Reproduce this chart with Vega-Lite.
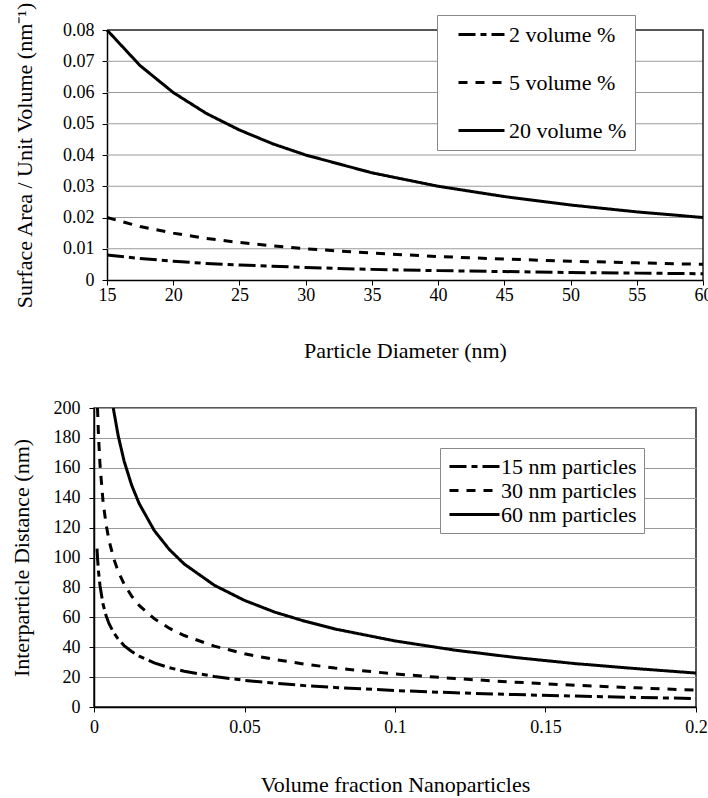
{
  "$schema": "https://vega.github.io/schema/vega-lite/v6.json",
  "padding": {"left": 9, "top": 1, "right": 0, "bottom": 0},
  "background": "white",
  "spacing": 37,
  "config": {
    "font": "Liberation Serif",
    "view": {"stroke": "#222222", "strokeWidth": 1.5},
    "axis": {
      "labelFont": "Liberation Serif",
      "labelFontSize": 18,
      "labelColor": "black",
      "labelFlush": false,
      "titleFont": "Liberation Serif",
      "titleFontSize": 22,
      "titleFontWeight": "normal",
      "titleColor": "black",
      "domainColor": "black",
      "domainWidth": 1.5,
      "tickColor": "black",
      "tickSize": 5,
      "gridColor": "#9a9a9a",
      "gridWidth": 1
    },
    "legend": {
      "labelFont": "Liberation Serif",
      "labelFontSize": 22,
      "labelColor": "black"
    }
  },
  "resolve": {"scale": {"strokeDash": "independent"}, "legend": {"strokeDash": "independent"}},
  "datasets": {
    "gridTop": [
      {"d": 15, "d2": 60, "sa": 0.01}, {"d": 15, "d2": 60, "sa": 0.02}, {"d": 15, "d2": 60, "sa": 0.03},
      {"d": 15, "d2": 60, "sa": 0.04}, {"d": 15, "d2": 60, "sa": 0.05}, {"d": 15, "d2": 60, "sa": 0.06},
      {"d": 15, "d2": 60, "sa": 0.07}
    ],
    "frameTop": [
      {"d": 15, "sa": 0.08, "k": 1}, {"d": 60, "sa": 0.08, "k": 2}, {"d": 60, "sa": 0, "k": 3}
    ],
    "top": [
      {"d": 15, "sa": 0.08, "series": "20 volume %"},
      {"d": 17.5, "sa": 0.0686, "series": "20 volume %"},
      {"d": 20, "sa": 0.06, "series": "20 volume %"},
      {"d": 22.5, "sa": 0.0533, "series": "20 volume %"},
      {"d": 25, "sa": 0.048, "series": "20 volume %"},
      {"d": 27.5, "sa": 0.0436, "series": "20 volume %"},
      {"d": 30, "sa": 0.04, "series": "20 volume %"},
      {"d": 35, "sa": 0.0343, "series": "20 volume %"},
      {"d": 40, "sa": 0.03, "series": "20 volume %"},
      {"d": 45, "sa": 0.0267, "series": "20 volume %"},
      {"d": 50, "sa": 0.024, "series": "20 volume %"},
      {"d": 55, "sa": 0.0218, "series": "20 volume %"},
      {"d": 60, "sa": 0.02, "series": "20 volume %"},
      {"d": 15, "sa": 0.02, "series": "5 volume %"},
      {"d": 17.5, "sa": 0.0171, "series": "5 volume %"},
      {"d": 20, "sa": 0.015, "series": "5 volume %"},
      {"d": 22.5, "sa": 0.0133, "series": "5 volume %"},
      {"d": 25, "sa": 0.012, "series": "5 volume %"},
      {"d": 27.5, "sa": 0.0109, "series": "5 volume %"},
      {"d": 30, "sa": 0.01, "series": "5 volume %"},
      {"d": 35, "sa": 0.0086, "series": "5 volume %"},
      {"d": 40, "sa": 0.0075, "series": "5 volume %"},
      {"d": 45, "sa": 0.0067, "series": "5 volume %"},
      {"d": 50, "sa": 0.006, "series": "5 volume %"},
      {"d": 55, "sa": 0.0055, "series": "5 volume %"},
      {"d": 60, "sa": 0.005, "series": "5 volume %"},
      {"d": 15, "sa": 0.008, "series": "2 volume %"},
      {"d": 17.5, "sa": 0.0069, "series": "2 volume %"},
      {"d": 20, "sa": 0.006, "series": "2 volume %"},
      {"d": 22.5, "sa": 0.0053, "series": "2 volume %"},
      {"d": 25, "sa": 0.0048, "series": "2 volume %"},
      {"d": 27.5, "sa": 0.0044, "series": "2 volume %"},
      {"d": 30, "sa": 0.004, "series": "2 volume %"},
      {"d": 35, "sa": 0.0034, "series": "2 volume %"},
      {"d": 40, "sa": 0.003, "series": "2 volume %"},
      {"d": 45, "sa": 0.0027, "series": "2 volume %"},
      {"d": 50, "sa": 0.0024, "series": "2 volume %"},
      {"d": 55, "sa": 0.0022, "series": "2 volume %"},
      {"d": 60, "sa": 0.002, "series": "2 volume %"}
    ],
    "bottom": [
      {"phi": 0.001, "dist": 105.9, "size": "15 nm particles"},
      {"phi": 0.0012, "dist": 98.8, "size": "15 nm particles"},
      {"phi": 0.0015, "dist": 90.6, "size": "15 nm particles"},
      {"phi": 0.002, "dist": 81.0, "size": "15 nm particles"},
      {"phi": 0.003, "dist": 68.8, "size": "15 nm particles"},
      {"phi": 0.004, "dist": 61.2, "size": "15 nm particles"},
      {"phi": 0.005, "dist": 55.7, "size": "15 nm particles"},
      {"phi": 0.0065, "dist": 49.8, "size": "15 nm particles"},
      {"phi": 0.008, "dist": 45.5, "size": "15 nm particles"},
      {"phi": 0.01, "dist": 41.1, "size": "15 nm particles"},
      {"phi": 0.0125, "dist": 37.1, "size": "15 nm particles"},
      {"phi": 0.015, "dist": 34.0, "size": "15 nm particles"},
      {"phi": 0.02, "dist": 29.5, "size": "15 nm particles"},
      {"phi": 0.025, "dist": 26.3, "size": "15 nm particles"},
      {"phi": 0.03, "dist": 23.9, "size": "15 nm particles"},
      {"phi": 0.04, "dist": 20.4, "size": "15 nm particles"},
      {"phi": 0.05, "dist": 17.8, "size": "15 nm particles"},
      {"phi": 0.06, "dist": 15.9, "size": "15 nm particles"},
      {"phi": 0.07, "dist": 14.3, "size": "15 nm particles"},
      {"phi": 0.08, "dist": 13.1, "size": "15 nm particles"},
      {"phi": 0.1, "dist": 11.0, "size": "15 nm particles"},
      {"phi": 0.12, "dist": 9.5, "size": "15 nm particles"},
      {"phi": 0.14, "dist": 8.3, "size": "15 nm particles"},
      {"phi": 0.16, "dist": 7.3, "size": "15 nm particles"},
      {"phi": 0.18, "dist": 6.4, "size": "15 nm particles"},
      {"phi": 0.2, "dist": 5.7, "size": "15 nm particles"},
      {"phi": 0.00116, "dist": 200, "size": "30 nm particles"},
      {"phi": 0.0015, "dist": 181.2, "size": "30 nm particles"},
      {"phi": 0.002, "dist": 161.9, "size": "30 nm particles"},
      {"phi": 0.003, "dist": 137.6, "size": "30 nm particles"},
      {"phi": 0.004, "dist": 122.3, "size": "30 nm particles"},
      {"phi": 0.005, "dist": 111.4, "size": "30 nm particles"},
      {"phi": 0.0065, "dist": 99.6, "size": "30 nm particles"},
      {"phi": 0.008, "dist": 90.9, "size": "30 nm particles"},
      {"phi": 0.01, "dist": 82.2, "size": "30 nm particles"},
      {"phi": 0.0125, "dist": 74.2, "size": "30 nm particles"},
      {"phi": 0.015, "dist": 68.0, "size": "30 nm particles"},
      {"phi": 0.02, "dist": 59.1, "size": "30 nm particles"},
      {"phi": 0.025, "dist": 52.7, "size": "30 nm particles"},
      {"phi": 0.03, "dist": 47.8, "size": "30 nm particles"},
      {"phi": 0.04, "dist": 40.7, "size": "30 nm particles"},
      {"phi": 0.05, "dist": 35.6, "size": "30 nm particles"},
      {"phi": 0.06, "dist": 31.8, "size": "30 nm particles"},
      {"phi": 0.07, "dist": 28.7, "size": "30 nm particles"},
      {"phi": 0.08, "dist": 26.1, "size": "30 nm particles"},
      {"phi": 0.1, "dist": 22.1, "size": "30 nm particles"},
      {"phi": 0.12, "dist": 19.0, "size": "30 nm particles"},
      {"phi": 0.14, "dist": 16.6, "size": "30 nm particles"},
      {"phi": 0.16, "dist": 14.5, "size": "30 nm particles"},
      {"phi": 0.18, "dist": 12.8, "size": "30 nm particles"},
      {"phi": 0.2, "dist": 11.3, "size": "30 nm particles"},
      {"phi": 0.0064, "dist": 200, "size": "60 nm particles"},
      {"phi": 0.008, "dist": 181.8, "size": "60 nm particles"},
      {"phi": 0.01, "dist": 164.5, "size": "60 nm particles"},
      {"phi": 0.0125, "dist": 148.4, "size": "60 nm particles"},
      {"phi": 0.015, "dist": 136.1, "size": "60 nm particles"},
      {"phi": 0.02, "dist": 118.1, "size": "60 nm particles"},
      {"phi": 0.025, "dist": 105.4, "size": "60 nm particles"},
      {"phi": 0.03, "dist": 95.6, "size": "60 nm particles"},
      {"phi": 0.04, "dist": 81.4, "size": "60 nm particles"},
      {"phi": 0.05, "dist": 71.3, "size": "60 nm particles"},
      {"phi": 0.06, "dist": 63.5, "size": "60 nm particles"},
      {"phi": 0.07, "dist": 57.4, "size": "60 nm particles"},
      {"phi": 0.08, "dist": 52.2, "size": "60 nm particles"},
      {"phi": 0.1, "dist": 44.2, "size": "60 nm particles"},
      {"phi": 0.12, "dist": 38.0, "size": "60 nm particles"},
      {"phi": 0.14, "dist": 33.1, "size": "60 nm particles"},
      {"phi": 0.16, "dist": 29.0, "size": "60 nm particles"},
      {"phi": 0.18, "dist": 25.7, "size": "60 nm particles"},
      {"phi": 0.2, "dist": 22.7, "size": "60 nm particles"}
    ]
  },
  "vconcat": [
    {
      "width": 609,
      "height": 250,
      "view": {"stroke": null},
      "encoding": {
        "x": {
          "field": "d", "type": "quantitative",
          "scale": {"domain": [15, 60], "nice": false, "zero": false, "range": [13, 609]},
          "axis": {"values": [15, 20, 25, 30, 35, 40, 45, 50, 55, 60], "grid": false, "labelFlush": false, "labelPadding": 1, "titlePadding": 36, "title": "Particle Diameter (nm)"}
        },
        "y": {
          "field": "sa", "type": "quantitative",
          "scale": {"domain": [0, 0.08], "nice": false},
          "axis": {"values": [0, 0.01, 0.02, 0.03, 0.04, 0.05, 0.06, 0.07, 0.08], "format": "~g", "grid": false, "labelFlush": false, "labelOverlap": false, "offset": -13, "labelPadding": 8, "titlePadding": 26, "title": "Surface Area / Unit Volume (nm⁻¹)"}
        }
      },
      "layer": [
        {
          "data": {"name": "gridTop"},
          "mark": {"type": "rule", "color": "#9a9a9a", "strokeWidth": 1},
          "encoding": {
            "x2": {"field": "d2"}
          }
        },
        {
          "data": {"name": "frameTop"},
          "mark": {"type": "line", "color": "#222222", "strokeWidth": 1.5},
          "encoding": {
            "order": {"field": "k", "type": "quantitative"}
          }
        },
        {
          "data": {"name": "top"},
          "mark": {"type": "line", "color": "black", "strokeWidth": 3, "clip": true},
          "encoding": {
            "strokeDash": {
              "field": "series", "type": "nominal",
              "scale": {"domain": ["2 volume %", "5 volume %", "20 volume %"], "range": [[17, 5, 6, 5], [9, 8], [1, 0]]},
              "legend": {
                "title": null, "orient": "none", "legendX": 343, "legendY": -15,
                "strokeColor": "#888888", "fillColor": "white", "padding": 8,
                "rowPadding": 25, "symbolType": "M-2.3,0H2.3", "symbolSize": 400,
                "symbolStrokeColor": "black", "symbolStrokeWidth": 3,
                "symbolOffset": 25, "labelOffset": 16
              }
            }
          }
        }
      ]
    },
    {
      "width": 602,
      "height": 299,
      "data": {"name": "bottom"},
      "mark": {"type": "line", "color": "black", "strokeWidth": 3, "clip": true},
      "encoding": {
        "x": {
          "field": "phi", "type": "quantitative",
          "scale": {"domain": [0, 0.2], "nice": false},
          "axis": {"values": [0, 0.05, 0.1, 0.15, 0.2], "format": "~g", "grid": false, "labelFlush": false, "labelPadding": 6, "titlePadding": 38, "title": "Volume fraction Nanoparticles"}
        },
        "y": {
          "field": "dist", "type": "quantitative",
          "scale": {"domain": [0, 200], "nice": false},
          "axis": {"values": [0, 20, 40, 60, 80, 100, 120, 140, 160, 180, 200], "grid": true, "labelFlush": false, "labelPadding": 9, "titlePadding": 20, "title": "Interparticle Distance (nm)"}
        },
        "strokeDash": {
          "field": "size", "type": "nominal",
          "scale": {"domain": ["15 nm particles", "30 nm particles", "60 nm particles"], "range": [[17, 5, 6, 5], [9, 8], [1, 0]]},
          "legend": {
            "title": null, "orient": "none", "legendX": 346, "legendY": 40,
            "strokeColor": "#888888", "fillColor": "white", "padding": 7,
            "rowPadding": 1, "symbolType": "M-2.5,0H2.5", "symbolSize": 400,
            "symbolStrokeColor": "black", "symbolStrokeWidth": 3,
            "symbolOffset": 16, "labelOffset": 15
          }
        }
      }
    }
  ]
}
